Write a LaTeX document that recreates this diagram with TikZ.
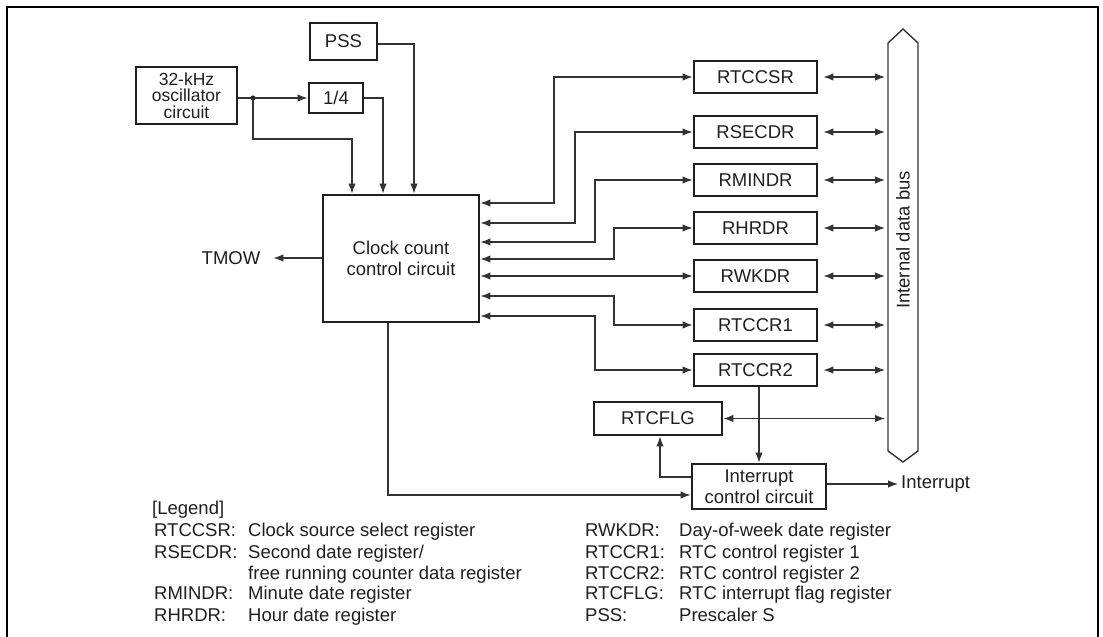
\documentclass[tikz,border=0pt]{standalone}
\usepackage{fontspec}
\setmainfont{Liberation Sans}
\usetikzlibrary{arrows.meta}
\begin{document}
\begin{tikzpicture}[x=1pt,y=-1pt,
  txt/.style={font=\fontsize{18.5}{21}\selectfont, text=black!88},
  blk/.style={txt, draw=black!88, line width=2.8pt, inner sep=0pt, align=center},
  wire/.style={line width=1.2pt, draw=black!80},
  arr/.style={wire, -{Latex[length=10pt,width=7.5pt]}},
  darr/.style={wire, {Latex[length=10pt,width=7.5pt]}-{Latex[length=10pt,width=7.5pt]}},
  lbl/.style={txt, inner sep=0pt},
  reg/.style={blk, minimum width=123pt, minimum height=32pt}
]
\useasboundingbox (0,0) rectangle (1103,637);
% outer frame (open at bottom)
\draw[line width=2pt] (7,637) -- (7,7) -- (1098,7) -- (1098,637);

% blocks
\node[blk, minimum width=101pt, minimum height=57pt, font=\fontsize{17.5}{16.5}\selectfont] (osc) at (186.5,95.5) {32-kHz\\oscillator\\circuit};
\node[blk, minimum width=54pt, minimum height=30pt] (div) at (336,98) {1/4};
\node[blk, minimum width=67pt, minimum height=37pt] (pss) at (343.5,41.5) {PSS};
\node[blk, minimum width=156pt, minimum height=127pt] (ccc) at (401,258.5) {Clock count\\control circuit};

\node[reg] (rtccsr) at (755.5,77) {RTCCSR};
\node[reg] (rsecdr) at (755.5,132) {RSECDR};
\node[reg] (rmindr) at (755.5,180) {RMINDR};
\node[reg] (rhrdr) at (755.5,228) {RHRDR};
\node[reg] (rwkdr) at (755.5,276) {RWKDR};
\node[reg] (rtccr1) at (755.5,325) {RTCCR1};
\node[reg] (rtccr2) at (755.5,370) {RTCCR2};
\node[blk, minimum width=128pt, minimum height=33pt] (rtcflg) at (658,418.5) {RTCFLG};
\node[blk, minimum width=134pt, minimum height=45pt] (int) at (759,486.5) {Interrupt\\control circuit};

% internal data bus
\draw[line width=1.4pt, draw=black!80] (888,43) -- (903,29) -- (918,43) -- (918,451) -- (903,462) -- (888,451) -- cycle;
\node[lbl, rotate=90] (buslbl) at (903,240) {Internal data bus};
\coordinate (busL) at (885,0);

% inputs to clock count circuit
\coordinate (j) at (253,98);
\draw[arr] (osc.east |- j) -- (div.west);
\fill[black!85] (j) circle (2.6pt);
\draw[arr] (j) -- (253,139) -- (352,139) -- (ccc.north -| 352,0);
\draw[arr] (div.east) -- (383,98) -- (ccc.north -| 383,0);
\draw[arr] (pss.east |- 0,44) -- (414,44) -- (ccc.north -| 414,0);

% TMOW
\node[lbl] (tmow) at (231,258) {TMOW};
\draw[arr] (ccc.west |- tmow) -- ([xshift=13pt]tmow.east);

% clock count circuit <-> registers
\draw[darr] (ccc.east |- 0,203) -- (554,203) |- (rtccsr.west);
\draw[darr] (ccc.east |- 0,223) -- (575,223) |- (rsecdr.west);
\draw[darr] (ccc.east |- 0,242) -- (595,242) |- (rmindr.west);
\draw[darr] (ccc.east |- 0,259) -- (614,259) |- (rhrdr.west);
\draw[darr] (ccc.east |- rwkdr.west) -- (rwkdr.west);
\draw[darr] (ccc.east |- 0,296) -- (614,296) |- (rtccr1.west);
\draw[darr] (ccc.east |- 0,316) -- (595,316) |- (rtccr2.west);

% registers <-> bus
\foreach \r in {rtccsr,rsecdr,rmindr,rhrdr,rwkdr,rtccr1,rtccr2}
  \draw[darr] ([xshift=5pt]\r.east) -- (\r.east -| busL);
\draw[darr] (rtcflg.east) -- (rtcflg.east -| busL);

% interrupt logic
\draw[arr] (rtccr2.south -| int.north) -- (int.north);
\draw[arr] (int.west |- 0,477) -- (660,477) -- (rtcflg.south -| 660,0);
\draw[arr] (ccc.south -| 388,0) -- (388,495) -- (int.west |- 0,495);
\node[lbl, anchor=west] (intout) at (901,484) {Interrupt};
\draw[arr] (int.east |- intout.west) -- ([xshift=-3pt]intout.west);

% legend
\node[lbl, anchor=base west] (lg) at (152,514) {[Legend]};
\node[lbl, anchor=base west] (l1a) at (154,536) {RTCCSR:};
\node[lbl, anchor=base west] (l1b) at (248,536) {Clock source select register};
\node[lbl, anchor=base west] (l2a) at (154,558) {RSECDR:};
\node[lbl, anchor=base west] (l2b) at (248,558) {Second date register/};
\node[lbl, anchor=base west] (l2c) at (248,579) {free running counter data register};
\node[lbl, anchor=base west] (l3a) at (154,599) {RMINDR:};
\node[lbl, anchor=base west] (l3b) at (248,599) {Minute date register};
\node[lbl, anchor=base west] (l4a) at (154,621) {RHRDR:};
\node[lbl, anchor=base west] (l4b) at (248,621) {Hour date register};

\node[lbl, anchor=base west] (r1a) at (585,536) {RWKDR:};
\node[lbl, anchor=base west] (r1b) at (679,536) {Day-of-week date register};
\node[lbl, anchor=base west] (r2a) at (585,558) {RTCCR1:};
\node[lbl, anchor=base west] (r2b) at (679,558) {RTC control register 1};
\node[lbl, anchor=base west] (r3a) at (585,579) {RTCCR2:};
\node[lbl, anchor=base west] (r3b) at (679,579) {RTC control register 2};
\node[lbl, anchor=base west] (r4a) at (585,599) {RTCFLG:};
\node[lbl, anchor=base west] (r4b) at (679,599) {RTC interrupt flag register};
\node[lbl, anchor=base west] (r5a) at (585,621) {PSS:};
\node[lbl, anchor=base west] (r5b) at (679,621) {Prescaler S};
\end{tikzpicture}
\end{document}
